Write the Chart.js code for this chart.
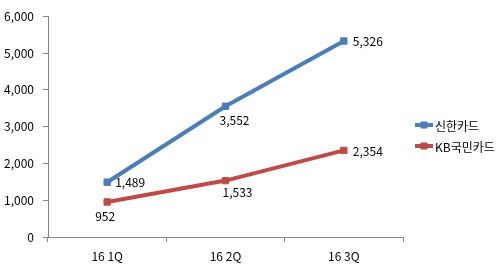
<!DOCTYPE html>
<html>
<head>
<meta charset="utf-8">
<script src="https://cdn.jsdelivr.net/npm/chart.js@4"></script>
<style>
html,body{margin:0;padding:0;background:#fff;}
canvas{display:block;}
</style>
</head>
<body>
<canvas id="c" width="500" height="273"></canvas>
<script>
const categories = ["16 1Q", "16 2Q", "16 3Q"];
const seriesNames = ["신한카드", "KB국민카드"];
const shinhanValues = [1489, 3552, 5326];
const kbValues = [952, 1533, 2354];
const yTickMin = 0, yTickMax = 6000, yTickStep = 1000;

const FONT = '"Noto Sans CJK KR", "Noto Sans", sans-serif';
const colors = ["#4a7ebb", "#be4b48"];
const axisColor = "#868686";

// label placement: [dx, dy] of left/center-of-text relative to point
const labelPlacement = [
  [[8, 0], [-6, 14], [9, 0]],
  [[-12, 14], [-3, 12], [9, 1]]
];

const dataLabelPlugin = {
  id: "dataLabels",
  afterDatasetsDraw(chart) {
    const ctx = chart.ctx;
    ctx.save();
    ctx.font = "12px " + FONT;
    ctx.fillStyle = "#000";
    ctx.textAlign = "left";
    ctx.textBaseline = "middle";
    chart.data.datasets.forEach((ds, di) => {
      const meta = chart.getDatasetMeta(di);
      meta.data.forEach((pt, i) => {
        const [dx, dy] = labelPlacement[di][i];
        ctx.fillText(ds.data[i].toLocaleString("en-US"), pt.x + dx, pt.y + dy);
      });
    });
    ctx.restore();
  }
};

const legendPlugin = {
  id: "customLegend",
  afterDraw(chart) {
    const ctx = chart.ctx;
    ctx.save();
    ctx.font = "12px " + FONT;
    ctx.textAlign = "left";
    ctx.textBaseline = "middle";
    const x0 = chart.chartArea.right + 12;
    const ys = [125, 146];
    chart.data.datasets.forEach((ds, di) => {
      const y = ys[di];
      ctx.strokeStyle = ds.borderColor;
      ctx.lineWidth = 4;
      ctx.beginPath();
      ctx.moveTo(x0, y);
      ctx.lineTo(x0 + 18, y);
      ctx.stroke();
      ctx.fillStyle = ds.borderColor;
      ctx.fillRect(x0 + 9 - 3.5, y - 3.5, 7, 7);
      ctx.fillStyle = "#000";
      ctx.fillText(ds.label, x0 + 20, y + 1);
    });
    ctx.restore();
  }
};

new Chart(document.getElementById("c"), {
  type: "line",
  data: {
    labels: categories,
    datasets: [
      { label: seriesNames[0], data: shinhanValues, borderColor: colors[0], backgroundColor: colors[0],
        borderWidth: 4, pointStyle: "rect", pointRadius: 4.5, pointBorderWidth: 1, pointBorderColor: colors[0], tension: 0 },
      { label: seriesNames[1], data: kbValues, borderColor: colors[1], backgroundColor: colors[1],
        borderWidth: 4, pointStyle: "rect", pointRadius: 4.5, pointBorderWidth: 1, pointBorderColor: colors[1], tension: 0 }
    ]
  },
  options: {
    responsive: false,
    animation: false,
    devicePixelRatio: 1,
    layout: { padding: { left: 0, top: 14, right: 97, bottom: 0 } },
    plugins: { legend: { display: false }, tooltip: { enabled: false } },
    scales: {
      x: {
        offset: true,
        grid: { offset: true, drawOnChartArea: false, drawTicks: true, tickLength: 5, color: axisColor },
        border: { display: true, color: axisColor, width: 1 },
        ticks: { font: { size: 12, family: FONT }, color: "#000", padding: 7, maxRotation: 0 },
        afterFit(s) { s.height = 36; }
      },
      y: {
        min: yTickMin, max: yTickMax,
        grid: { drawOnChartArea: false, drawTicks: true, tickLength: 5, color: axisColor },
        border: { display: true, color: axisColor, width: 1 },
        ticks: { stepSize: yTickStep, font: { size: 12, family: FONT }, color: "#000", padding: 9,
          callback: v => v.toLocaleString("en-US") },
        afterFit(s) { s.width = 48; }
      }
    }
  },
  plugins: [dataLabelPlugin, legendPlugin]
});
</script>
</body>
</html>
